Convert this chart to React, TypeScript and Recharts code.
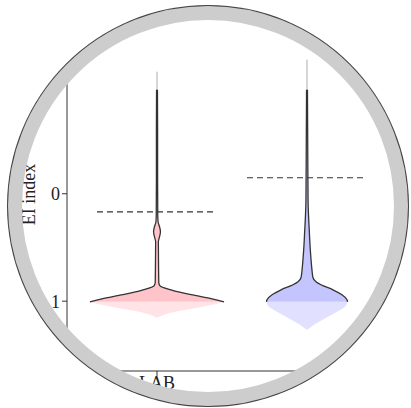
import { ComposedChart, Area, XAxis, YAxis, ReferenceLine, Label } from 'recharts'

const categories = ['LAB', '']
const centers = [1, 2]
const yTicks = [0, 1]

// LAB violin: outlined upper part (EI value, half width)
const labY = [-0.968, -0.596, -0.13, 0.196, 0.261, 0.307, 0.354, 0.4, 0.447, 0.615, 0.829, 0.857, 0.894, 0.94, 0.978, 1.006]
const labHalf = [0.003, 0.004, 0.004, 0.005, 0.007, 0.017, 0.023, 0.017, 0.009, 0.01, 0.012, 0.02, 0.093, 0.227, 0.367, 0.447]
// LAB violin: pale lower part
const labLowY = [1.006, 1.024, 1.061, 1.099, 1.127, 1.155]
const labLowHalf = [0.447, 0.4, 0.267, 0.12, 0.047, 0]
const labTipY = [-1.136, -0.968]
const labMean = 0.168

// second violin
const expY = [-0.968, -0.41, 0.056, 0.196, 0.335, 0.475, 0.615, 0.708, 0.782, 0.819, 0.847, 0.894, 0.94, 0.987, 1.006]
const expHalf = [0.003, 0.005, 0.007, 0.01, 0.015, 0.02, 0.027, 0.033, 0.04, 0.06, 0.093, 0.173, 0.233, 0.267, 0.27]
const expLowY = [1.006, 1.052, 1.099, 1.145, 1.182, 1.22, 1.248, 1.266]
const expLowHalf = [0.27, 0.253, 0.2, 0.14, 0.093, 0.047, 0.02, 0]
const expTipY = [-1.248, -0.968]
const expMean = -0.149

const meanHalf = 0.4

const rows = (ys: number[], hw: number[], c: number) =>
  ys.map((y, i) => ({ y, r: [c - hw[i], c + hw[i]] }))
const tipRows = (ys: number[], c: number) => ys.map(y => ({ y, r: [c - 0.002, c + 0.002] }))

const serif = '"Liberation Serif", "DejaVu Serif", serif'

export default function App() {
  const violins = [
    { up: rows(labY, labHalf, centers[0]), low: rows(labLowY, labLowHalf, centers[0]), tip: tipRows(labTipY, centers[0]), fill: '#ffc4ca', pale: '#ffe3e6', mean: labMean, c: centers[0] },
    { up: rows(expY, expHalf, centers[1]), low: rows(expLowY, expLowHalf, centers[1]), tip: tipRows(expTipY, centers[1]), fill: '#c4c4ff', pale: '#e1e1ff', mean: expMean, c: centers[1] },
  ]

  return (
    <div style={{ position: 'absolute', left: 0, top: 0, width: 411, height: 408, background: '#fff' }}>
      <div
        style={{
          position: 'absolute', left: 8, top: 6, width: 372, height: 372,
          border: '14px solid #cdcdcd', borderRadius: '50%', overflow: 'hidden',
          boxShadow: '0 0 0 1px #444', background: '#fff',
        }}
      >
        <div style={{ position: 'absolute', left: -22, top: -20 }}>
          <ComposedChart width={411} height={408} layout="vertical" margin={{ top: 38, right: 14, bottom: 0, left: 0 }}>
            <XAxis
              type="number"
              domain={[0.4, 2.6]}
              ticks={centers}
              tickFormatter={(v: number) => categories[v - 1]}
              height={37}
              stroke="#333"
              tickSize={5}
              tickMargin={0}
              tick={{ fill: '#222', fontSize: 18, fontFamily: serif }}
              allowDataOverflow
            />
            <YAxis
              type="number"
              dataKey="y"
              domain={[-1.45, 1.65]}
              ticks={yTicks}
              width={67}
              stroke="#333"
              tickSize={5}
              tickMargin={2}
              tick={{ fill: '#222', fontSize: 18, fontFamily: serif }}
              allowDataOverflow
            >
              <Label
                content={({ viewBox }: any) => {
                  const cx = 29
                  const cy = viewBox.y + viewBox.height / 2 - 10
                  return (
                    <text x={cx} y={cy} transform={`rotate(-90 ${cx} ${cy})`} textAnchor="middle"
                      dominantBaseline="central" fontSize={18} fontFamily={serif} fill="#222">
                      EI index
                    </text>
                  )
                }}
              />
            </YAxis>
            {violins.map((v, i) => (
              <Area key={`tip${i}`} data={v.tip} dataKey="r" type="linear" stroke="#d4d4d4" strokeWidth={1.2}
                fill="#eee" isAnimationActive={false} dot={false} activeDot={false} />
            ))}
            {violins.map((v, i) => (
              <Area key={`low${i}`} data={v.low} dataKey="r" type="monotone" stroke="none"
                fill={v.pale} fillOpacity={1} isAnimationActive={false} dot={false} activeDot={false} />
            ))}
            {violins.map((v, i) => (
              <Area key={`up${i}`} data={v.up} dataKey="r" type="monotone" stroke="#333" strokeWidth={1.3}
                fill={v.fill} fillOpacity={1} isAnimationActive={false} dot={false} activeDot={false} />
            ))}
            {violins.map((v, i) => (
              <ReferenceLine key={`m${i}`}
                segment={[{ x: v.c - meanHalf, y: v.mean }, { x: v.c + meanHalf, y: v.mean }]}
                stroke="#333" strokeWidth={1.2} strokeDasharray="6 4" />
            ))}
          </ComposedChart>
        </div>
      </div>
    </div>
  )
}
